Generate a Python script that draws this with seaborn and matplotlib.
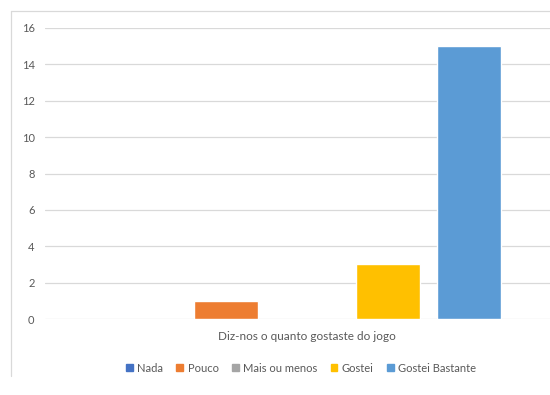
import matplotlib

matplotlib.use("Agg")
import matplotlib.pyplot as plt
import pandas as pd
import seaborn as sns
from matplotlib.lines import Line2D

# data
question = "Diz-nos o quanto gostaste do jogo"
answers = ["Nada", "Pouco", "Mais ou menos", "Gostei", "Gostei Bastante"]
counts = [0, 1, 0, 3, 15]
colors = ["#4472C4", "#ED7D31", "#A5A5A5", "#FFC000", "#5B9BD5"]
y_ticks = [0, 2, 4, 6, 8, 10, 12, 14, 16]

df = pd.DataFrame({"pergunta": [question] * len(answers), "resposta": answers, "n": counts})

sns.set_style("white")
plt.rcParams["font.family"] = ["Lato", "DejaVu Sans"]

fig = plt.figure(figsize=(5.5, 3.95), dpi=100)
ax = fig.add_axes([45 / 550, 1 - 319 / 395, 524 / 550, 291 / 395])

sns.barplot(
    data=df,
    x="pergunta",
    y="n",
    hue="resposta",
    hue_order=answers,
    palette=colors,
    width=0.773,
    gap=0.21,
    saturation=1,
    legend=False,
    ax=ax,
)

ax.set_ylim(0, 16)
ax.set_yticks(y_ticks)
ax.yaxis.grid(True, color="#D9D9D9", lw=0.9)
ax.set_axisbelow(True)
for s in ax.spines.values():
    s.set_visible(False)
ax.tick_params(axis="y", length=0, pad=7.5, labelsize=8, labelcolor="#595959")
ax.tick_params(axis="x", length=0, pad=9, labelsize=8.5, labelcolor="#595959")
ax.set_xlabel("")
ax.set_ylabel("")

# chart frame (right and bottom edges cropped away in the original)
fig.add_artist(Line2D([11 / 550, 11 / 550], [1 - 11 / 395, 1 - 376 / 395], color="#D9D9D9", lw=0.9))
fig.add_artist(Line2D([11 / 550, 1], [1 - 11 / 395, 1 - 11 / 395], color="#D9D9D9", lw=0.9))

handles = [plt.Rectangle((0, 0), 1, 1, color=c) for c in colors]
fig.legend(
    handles,
    answers,
    loc="center",
    bbox_to_anchor=(301 / 550, 1 - 368 / 395),
    ncol=5,
    frameon=False,
    fontsize=8,
    labelcolor="#595959",
    handlelength=0.6,
    handleheight=0.6,
    handletextpad=0.4,
    columnspacing=1.2,
)

fig.savefig("out.png", dpi=100)
